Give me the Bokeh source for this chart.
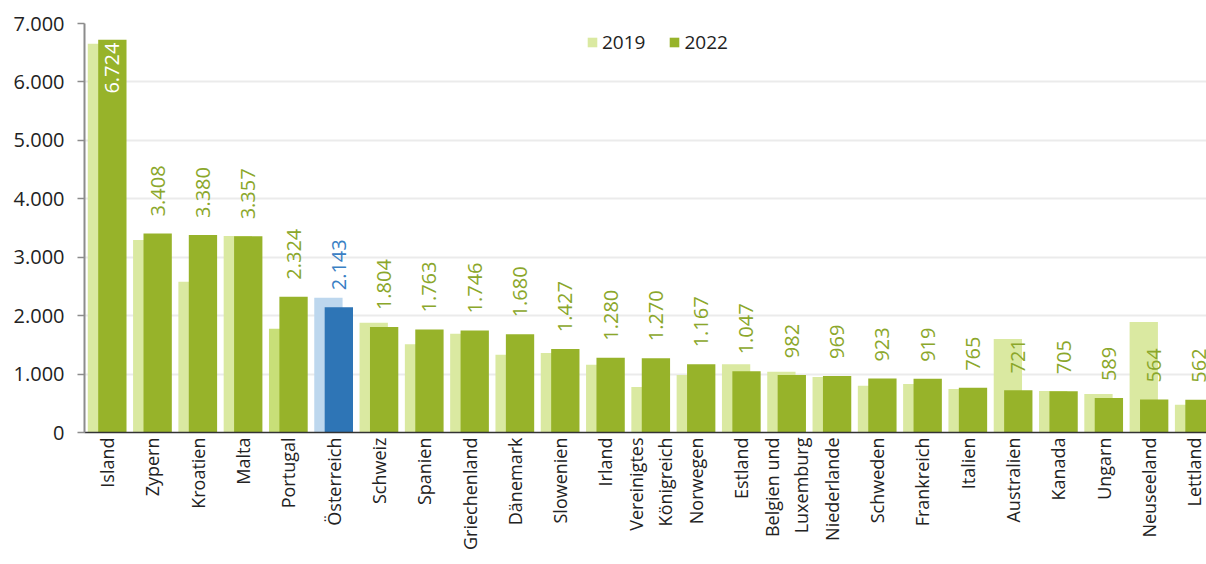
import math
from bokeh.plotting import figure
from bokeh.models import (ColumnDataSource, Range1d, FixedTicker, LabelSet,
                          Legend, LegendItem)
from bokeh.core.properties import value
from bokeh.transform import dodge
from bokeh.embed import file_html
from bokeh.resources import INLINE

# ---------------- data ----------------
countries = ["Island", "Zypern", "Kroatien", "Malta", "Portugal", "Österreich",
             "Schweiz", "Spanien", "Griechenland", "Dänemark", "Slowenien",
             "Irland", "Vereinigtes\nKönigreich", "Norwegen", "Estland",
             "Belgien und\nLuxemburg", "Niederlande", "Schweden", "Frankreich",
             "Italien", "Australien", "Kanada", "Ungarn", "Neuseeland", "Lettland"]
v2019 = [6655, 3295, 2580, 3365, 1775, 2305, 1880, 1510, 1690, 1330, 1360,
         1160, 780, 985, 1170, 1040, 950, 800, 830, 745, 1600, 710, 660, 1890, 475]
v2022 = [6724, 3408, 3380, 3357, 2324, 2143, 1804, 1763, 1746, 1680, 1427,
         1280, 1270, 1167, 1047, 982, 969, 923, 919, 765, 721, 705, 589, 564, 562]
y_ticks = [0, 1000, 2000, 3000, 4000, 5000, 6000, 7000]
series = ["2019", "2022"]
highlight = "Österreich"
inside_label = "Island"

# ---------------- styles ----------------
FONT = "Open Sans"
GREEN = "#97B32A"
LGREEN = "#DAE9A1"
BLUE = "#2E75B6"
LBLUE = "#BDD7EE"
LABEL_GREEN = "#8BA72B"
LABEL_BLUE = "#3A80C4"

def fmt(v):
    return f"{v:,}".replace(",", ".")

idx = list(range(len(countries)))
c2019 = [LBLUE if c == highlight else ("#C8DF78" if c == "Portugal" else LGREEN) for c in countries]
c2022 = [BLUE if c == highlight else GREEN for c in countries]
tcol = [LABEL_BLUE if c == highlight else LABEL_GREEN for c in countries]

src = ColumnDataSource(dict(
    x=idx, cat=countries, v2019=v2019, v2022=v2022,
    c2019=c2019, c2022=c2022, tcol=tcol,
))
out_rows = [i for i, c in enumerate(countries) if c != inside_label]
in_rows = [i for i, c in enumerate(countries) if c == inside_label]
src_out = ColumnDataSource(dict(
    x=[idx[i] for i in out_rows], y=[v2022[i] for i in out_rows],
    lbl=[fmt(v2022[i]) for i in out_rows], tcol=[tcol[i] for i in out_rows]))
src_in = ColumnDataSource(dict(
    x=[idx[i] for i in in_rows], y=[v2022[i] for i in in_rows],
    lbl=[fmt(v2022[i]) for i in in_rows]))

p = figure(width=1206, height=564, output_backend="svg", toolbar_location=None,
           x_range=Range1d(-0.5, 24.27), y_range=Range1d(0, 7000),
           min_border_left=84, min_border_right=0, min_border_top=23,
           min_border_bottom=132)
p.outline_line_color = None
p.background_fill_color = "white"
p.border_fill_color = "white"

r19 = p.vbar(x=dodge("x", -0.115), top="v2019", width=0.625, bottom=0,
             source=src, fill_color="c2019", line_color=None)
r22 = p.vbar(x=dodge("x", 0.115), top="v2022", width=0.625, bottom=0,
             source=src, fill_color="c2022", line_color=None)

lab_out = LabelSet(x=dodge("x", 0.115), y="y", text="lbl", source=src_out,
                   angle=math.pi / 2, text_align="left", text_baseline="middle",
                   y_offset=17, text_color="tcol",
                   text_font=value(FONT), text_font_size="20px")
lab_in = LabelSet(x=dodge("x", 0.115), y="y", text="lbl", source=src_in,
                  angle=math.pi / 2, text_align="right", text_baseline="middle",
                  y_offset=-3, text_color="white",
                  text_font=value(FONT), text_font_size="20px")
p.add_layout(lab_out)
p.add_layout(lab_in)

# axes
p.xaxis.ticker = FixedTicker(ticks=idx)
p.xaxis.major_label_overrides = {i: c for i, c in zip(idx, countries)}
p.xaxis.major_label_orientation = math.pi / 2
p.xaxis.major_tick_out = 0
p.xaxis.major_tick_in = 0
p.xaxis.minor_tick_line_color = None
p.xaxis.axis_line_color = "#333333"
p.xaxis.axis_line_width = 1.5
p.xaxis.major_label_standoff = 5
p.xaxis.major_label_text_font = FONT
p.xaxis.major_label_text_font_size = "18px"
p.xaxis.major_label_text_color = "#222222"

p.yaxis.ticker = FixedTicker(ticks=y_ticks)
p.yaxis.major_label_overrides = {t: fmt(t) for t in y_ticks}
p.yaxis.axis_line_color = "#8C8C8C"
p.yaxis.axis_line_width = 2
p.yaxis.major_tick_line_color = "#8C8C8C"
p.yaxis.major_tick_line_width = 1.5
p.yaxis.major_tick_out = 7
p.yaxis.major_tick_in = 0
p.yaxis.minor_tick_line_color = None
p.yaxis.major_label_standoff = 13
p.yaxis.major_label_text_font = FONT
p.yaxis.major_label_text_font_size = "20px"
p.yaxis.major_label_text_color = "#222222"

p.xgrid.grid_line_color = None
p.ygrid.grid_line_color = "#EBEBEB"
p.ygrid.grid_line_width = 2

legend = Legend(items=[LegendItem(label=series[0], renderers=[r19], index=0),
                       LegendItem(label=series[1], renderers=[r22], index=0)],
                location=(502, 377), orientation="horizontal",
                glyph_width=12, glyph_height=12, label_standoff=4, spacing=23,
                padding=0, margin=0, border_line_color=None,
                background_fill_alpha=0,
                label_text_font=FONT, label_text_font_size="19px",
                label_text_color="#222222")
p.add_layout(legend)

open("out.html", "w").write(file_html(p, INLINE))
